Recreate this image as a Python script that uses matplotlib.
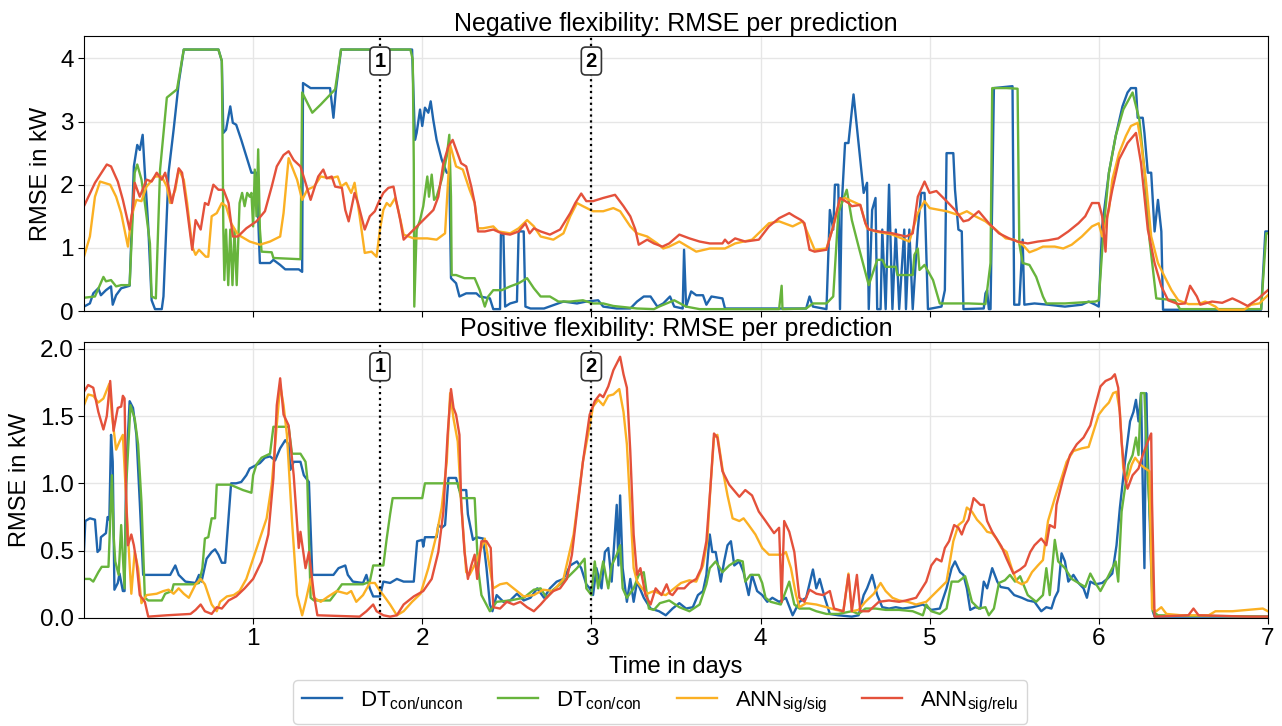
import numpy as np
import matplotlib
matplotlib.use("Agg")
import matplotlib.pyplot as plt
from matplotlib.transforms import blended_transform_factory

plt.rcParams['font.family'] = ['Liberation Sans', 'DejaVu Sans']
plt.rcParams['mathtext.default'] = 'regular'

# RMSE per prediction (day, kW) -- negative flexibility
neg_dt_uncon = [(0.0,0.07),(0.035,0.12),(0.055,0.28),(0.085,0.36),(0.1,0.25),(0.13,0.33),(0.16,0.39),(0.17,0.1),(0.19,0.25),(0.22,0.36),(0.27,0.4),(0.295,2.29),(0.315,2.63),(0.33,2.55),(0.347,2.79),(0.36,2.19),(0.38,1.34),(0.4,0.17),(0.42,0.03),(0.46,0.03),(0.47,0.23),(0.5,2.19),(0.53,2.87),(0.56,3.61),(0.59,4.14),(0.795,4.14),(0.815,3.96),(0.824,2.82),(0.84,2.87),(0.865,3.24),(0.88,2.98),(0.9,2.95),(0.93,2.71),(0.96,2.45),(0.99,2.19),(1.02,2.19),(1.04,0.76),(1.1,0.76),(1.12,0.81),(1.16,0.73),(1.19,0.66),(1.27,0.66),(1.29,0.62),(1.295,3.61),(1.34,3.53),(1.455,3.53),(1.475,3.06),(1.49,3.51),(1.52,4.14),(1.94,4.14),(1.957,2.71),(1.967,2.82),(1.987,3.19),(2.0,2.93),(2.016,3.22),(2.036,3.14),(2.05,3.32),(2.065,3.03),(2.085,2.71),(2.115,2.4),(2.145,2.19),(2.16,2.19),(2.17,0.52),(2.2,0.44),(2.22,0.23),(2.26,0.28),(2.32,0.28),(2.34,0.23),(2.4,0.2),(2.42,0.03),(2.46,0.03),(2.465,1.21),(2.48,1.21),(2.49,0.07),(2.52,0.12),(2.56,0.15),(2.57,1.26),(2.6,1.26),(2.61,0.07),(2.64,0.04),(2.72,0.04),(2.835,0.15),(2.915,0.12),(2.97,0.15),(3.04,0.17),(3.07,0.07),(3.15,0.04),(3.23,0.04),(3.27,0.15),(3.31,0.23),(3.35,0.23),(3.39,0.07),(3.425,0.12),(3.465,0.23),(3.49,0.07),(3.54,0.04),(3.548,0.97),(3.56,0.07),(3.59,0.31),(3.62,0.25),(3.66,0.25),(3.68,0.1),(3.71,0.23),(3.775,0.2),(3.79,0.04),(4.27,0.04),(4.29,0.23),(4.31,0.07),(4.39,0.03),(4.41,1.6),(4.43,1.29),(4.44,2.0),(4.46,2.0),(4.47,0.03),(4.48,1.66),(4.5,2.66),(4.52,2.66),(4.55,3.43),(4.59,2.4),(4.61,1.87),(4.63,2.03),(4.64,0.03),(4.66,1.6),(4.68,1.79),(4.69,0.03),(4.71,0.03),(4.72,1.29),(4.74,0.03),(4.76,2.0),(4.78,0.03),(4.8,1.29),(4.82,0.03),(4.85,1.29),(4.86,0.03),(4.88,1.29),(4.9,0.03),(4.93,1.29),(4.95,1.87),(4.97,1.87),(4.99,0.03),(5.07,0.07),(5.09,0.33),(5.1,2.5),(5.14,2.5),(5.15,1.92),(5.17,1.29),(5.19,1.26),(5.2,0.03),(5.32,0.04),(5.33,0.28),(5.34,0.33),(5.35,0.03),(5.36,0.03),(5.38,3.53),(5.49,3.56),(5.5,0.1),(5.53,0.1),(5.55,1.13),(5.56,0.1),(5.62,0.12),(5.7,0.1),(5.8,0.07),(5.9,0.1),(5.94,0.15),(5.98,0.1),(6.0,0.07),(6.02,1.34),(6.06,2.19),(6.1,2.77),(6.14,3.24),(6.17,3.46),(6.19,3.53),(6.22,3.53),(6.23,3.06),(6.26,3.06),(6.27,2.82),(6.29,2.19),(6.31,2.19),(6.33,1.26),(6.35,1.76),(6.37,1.26),(6.38,0.02),(6.96,0.02),(6.985,1.26),(7.0,1.26)]

neg_dt_con = [(0.0,0.21),(0.065,0.23),(0.115,0.54),(0.13,0.47),(0.16,0.49),(0.19,0.39),(0.22,0.41),(0.27,0.41),(0.28,1.02),(0.3,2.19),(0.315,2.32),(0.34,2.08),(0.36,1.71),(0.39,1.07),(0.4,0.23),(0.425,0.2),(0.45,2.24),(0.49,3.38),(0.55,3.51),(0.59,4.14),(0.795,4.14),(0.815,3.96),(0.824,1.29),(0.83,0.49),(0.84,1.29),(0.853,0.41),(0.865,1.29),(0.878,0.41),(0.89,1.29),(0.903,0.41),(0.92,1.71),(0.935,1.87),(0.95,1.66),(0.965,1.87),(0.98,1.81),(0.99,1.87),(1.0,1.34),(1.01,2.24),(1.02,1.5),(1.03,2.56),(1.04,1.3),(1.05,0.94),(1.11,0.93),(1.12,0.84),(1.28,0.82),(1.29,3.46),(1.35,3.14),(1.4,3.27),(1.485,3.51),(1.52,4.14),(1.93,4.14),(1.944,3.98),(1.95,2.34),(1.953,0.07),(1.967,1.29),(1.987,1.44),(2.006,1.66),(2.03,2.13),(2.04,1.81),(2.056,2.16),(2.07,1.76),(2.085,1.81),(2.115,2.08),(2.145,2.45),(2.16,2.79),(2.17,1.81),(2.174,0.57),(2.2,0.57),(2.25,0.52),(2.31,0.52),(2.34,0.33),(2.37,0.07),(2.39,0.23),(2.42,0.33),(2.47,0.33),(2.52,0.39),(2.57,0.44),(2.62,0.52),(2.66,0.36),(2.7,0.23),(2.755,0.23),(2.805,0.15),(2.875,0.15),(2.95,0.17),(3.01,0.12),(3.07,0.12),(3.13,0.08),(3.27,0.04),(3.37,0.03),(3.4,0.07),(3.49,0.17),(3.56,0.07),(3.64,0.03),(4.11,0.03),(4.125,0.4),(4.13,0.03),(4.27,0.04),(4.31,0.12),(4.39,0.12),(4.43,0.23),(4.46,1.55),(4.51,1.92),(4.54,1.44),(4.58,1.02),(4.64,0.41),(4.69,0.81),(4.72,0.81),(4.74,0.7),(4.8,0.7),(4.81,0.57),(4.9,0.57),(4.91,0.89),(4.93,0.99),(4.94,0.65),(4.97,0.73),(5.02,0.49),(5.06,0.12),(5.23,0.12),(5.33,0.11),(5.36,0.76),(5.37,3.53),(5.455,3.53),(5.52,3.52),(5.53,1.07),(5.55,0.76),(5.59,0.73),(5.63,0.54),(5.67,0.23),(5.69,0.12),(5.8,0.12),(5.98,0.15),(6.0,0.17),(6.03,1.34),(6.06,2.19),(6.1,2.77),(6.145,3.19),(6.2,3.46),(6.24,3.03),(6.27,2.24),(6.3,1.13),(6.34,0.2),(6.45,0.17),(6.48,0.03),(6.96,0.03),(6.99,1.23),(7.0,1.23)]

neg_ann_sig = [(0.0,0.86),(0.035,1.18),(0.065,1.81),(0.095,2.05),(0.155,2.0),(0.19,1.81),(0.22,1.55),(0.26,1.02),(0.28,1.5),(0.31,1.76),(0.34,1.74),(0.37,1.97),(0.42,2.13),(0.46,2.13),(0.49,1.97),(0.51,1.71),(0.54,1.92),(0.56,2.24),(0.59,2.08),(0.61,1.71),(0.64,1.02),(0.66,0.89),(0.68,0.97),(0.72,0.86),(0.735,0.86),(0.755,1.5),(0.785,1.55),(0.815,1.71),(0.84,1.66),(0.87,1.39),(0.91,1.21),(0.98,1.1),(1.04,1.05),(1.1,1.1),(1.16,1.18),(1.18,1.55),(1.21,2.42),(1.26,2.08),(1.29,1.76),(1.32,1.92),(1.36,1.97),(1.4,2.13),(1.455,2.1),(1.5,2.13),(1.52,1.97),(1.55,2.03),(1.58,1.87),(1.6,2.03),(1.63,1.5),(1.66,0.92),(1.7,0.94),(1.73,0.86),(1.75,1.29),(1.77,1.6),(1.79,1.71),(1.81,1.66),(1.84,1.79),(1.86,1.58),(1.89,1.21),(1.95,1.15),(2.03,1.15),(2.085,1.13),(2.135,1.23),(2.165,2.63),(2.2,2.29),(2.24,2.24),(2.28,1.92),(2.31,1.71),(2.33,1.31),(2.36,1.31),(2.42,1.34),(2.45,1.26),(2.52,1.23),(2.57,1.31),(2.62,1.44),(2.66,1.34),(2.7,1.18),(2.775,1.13),(2.835,1.23),(2.875,1.5),(2.915,1.71),(2.95,1.66),(3.01,1.58),(3.07,1.58),(3.13,1.63),(3.17,1.58),(3.23,1.34),(3.27,1.23),(3.33,1.18),(3.39,1.07),(3.425,0.99),(3.46,1.02),(3.52,1.1),(3.62,0.94),(3.7,0.99),(3.79,0.99),(3.85,1.07),(3.95,1.13),(4.05,1.39),(4.11,1.42),(4.19,1.34),(4.25,1.42),(4.32,0.97),(4.39,0.99),(4.43,1.34),(4.47,1.76),(4.5,1.79),(4.54,1.74),(4.59,1.68),(4.63,1.31),(4.68,1.26),(4.78,1.21),(4.88,1.1),(4.93,1.55),(4.97,1.74),(5.0,1.63),(5.1,1.58),(5.17,1.52),(5.22,1.58),(5.27,1.5),(5.33,1.42),(5.39,1.29),(5.45,1.15),(5.5,1.13),(5.55,1.05),(5.59,0.93),(5.63,0.97),(5.67,1.02),(5.74,1.02),(5.79,0.99),(5.84,1.05),(5.9,1.18),(5.96,1.34),(6.0,1.39),(6.02,1.18),(6.04,1.37),(6.06,1.6),(6.08,2.08),(6.12,2.5),(6.16,2.77),(6.19,2.93),(6.23,2.98),(6.25,2.66),(6.28,2.03),(6.31,1.18),(6.35,0.76),(6.39,0.54),(6.43,0.33),(6.47,0.17),(6.53,0.11),(6.59,0.11),(6.63,0.15),(6.69,0.07),(6.71,0.02),(6.86,0.02),(6.9,0.1),(6.95,0.12),(6.98,0.2),(7.0,0.25)]

neg_ann_relu = [(0.0,1.66),(0.065,2.03),(0.135,2.32),(0.16,2.29),(0.2,2.05),(0.23,1.76),(0.27,1.29),(0.29,1.66),(0.3,2.03),(0.33,1.81),(0.37,2.08),(0.4,2.05),(0.43,2.19),(0.46,2.08),(0.48,2.19),(0.5,1.97),(0.52,1.71),(0.54,1.97),(0.56,2.26),(0.58,2.19),(0.61,1.6),(0.64,0.97),(0.66,1.44),(0.69,1.29),(0.715,1.71),(0.735,1.68),(0.765,2.0),(0.795,1.92),(0.825,1.92),(0.855,1.71),(0.88,1.18),(0.91,1.18),(0.96,1.31),(1.02,1.42),(1.07,1.58),(1.11,1.97),(1.14,2.29),(1.18,2.47),(1.21,2.53),(1.24,2.39),(1.28,2.29),(1.31,2.03),(1.34,1.76),(1.365,1.97),(1.385,2.13),(1.415,2.24),(1.435,2.1),(1.465,2.13),(1.485,1.97),(1.525,1.95),(1.545,1.6),(1.565,1.42),(1.6,1.87),(1.62,1.71),(1.66,1.29),(1.69,1.5),(1.72,1.58),(1.74,1.71),(1.77,1.87),(1.8,1.95),(1.83,1.97),(1.845,1.76),(1.87,1.44),(1.89,1.13),(1.95,1.29),(2.006,1.44),(2.066,1.6),(2.095,1.81),(2.125,2.34),(2.155,2.61),(2.18,2.71),(2.2,2.56),(2.23,2.34),(2.26,2.29),(2.29,1.97),(2.31,1.71),(2.33,1.26),(2.37,1.26),(2.42,1.29),(2.47,1.23),(2.52,1.21),(2.57,1.26),(2.61,1.39),(2.635,1.23),(2.66,1.31),(2.7,1.26),(2.755,1.21),(2.815,1.29),(2.875,1.55),(2.905,1.71),(2.94,1.86),(2.97,1.74),(3.01,1.74),(3.07,1.79),(3.14,1.84),(3.19,1.66),(3.23,1.5),(3.26,1.29),(3.28,1.05),(3.33,1.13),(3.37,1.07),(3.42,1.02),(3.46,1.07),(3.52,1.21),(3.58,1.15),(3.64,1.1),(3.7,1.07),(3.775,1.07),(3.79,1.13),(3.81,1.07),(3.85,1.15),(3.91,1.1),(3.99,1.13),(4.05,1.34),(4.11,1.47),(4.17,1.55),(4.2,1.5),(4.24,1.44),(4.26,1.39),(4.29,0.97),(4.32,0.94),(4.39,0.97),(4.43,1.34),(4.47,1.79),(4.52,1.71),(4.54,1.66),(4.59,1.68),(4.62,1.39),(4.64,1.29),(4.7,1.26),(4.78,1.23),(4.86,1.18),(4.9,1.23),(4.93,1.81),(4.97,2.05),(5.0,1.87),(5.04,1.9),(5.1,1.74),(5.15,1.6),(5.2,1.42),(5.23,1.44),(5.29,1.58),(5.35,1.39),(5.41,1.23),(5.47,1.15),(5.52,1.1),(5.58,1.07),(5.64,1.1),(5.7,1.12),(5.76,1.15),(5.82,1.26),(5.88,1.39),(5.92,1.5),(5.96,1.71),(6.0,1.71),(6.02,1.5),(6.04,0.94),(6.05,1.5),(6.08,1.92),(6.12,2.4),(6.17,2.66),(6.22,2.82),(6.25,2.34),(6.29,1.29),(6.33,0.76),(6.37,0.39),(6.41,0.17),(6.47,0.11),(6.51,0.12),(6.54,0.4),(6.58,0.23),(6.6,0.1),(6.67,0.15),(6.73,0.13),(6.79,0.2),(6.83,0.15),(6.88,0.08),(6.94,0.19),(7.0,0.33)]

# RMSE per prediction (day, kW) -- positive flexibility
pos_dt_uncon = [(0.0,0.5),(0.008,0.72),(0.035,0.74),(0.065,0.73),(0.08,0.49),(0.095,0.51),(0.1,0.6),(0.13,0.63),(0.14,0.75),(0.15,0.73),(0.16,1.36),(0.17,1.16),(0.18,0.21),(0.2,0.26),(0.21,0.33),(0.23,0.2),(0.24,0.2),(0.25,1.11),(0.27,1.61),(0.29,1.56),(0.31,1.36),(0.33,0.86),(0.35,0.32),(0.51,0.32),(0.54,0.39),(0.56,0.32),(0.6,0.27),(0.66,0.26),(0.68,0.32),(0.695,0.27),(0.725,0.44),(0.755,0.49),(0.775,0.51),(0.795,0.47),(0.815,0.41),(0.835,0.41),(0.845,0.58),(0.855,0.75),(0.87,1.0),(0.9,1.0),(0.93,1.01),(0.96,1.06),(0.98,1.11),(1.01,1.13),(1.04,1.15),(1.07,1.19),(1.1,1.2),(1.13,1.17),(1.16,1.26),(1.19,1.32),(1.21,1.29),(1.22,1.1),(1.24,1.16),(1.28,1.16),(1.3,1.06),(1.33,1.01),(1.35,0.32),(1.475,0.32),(1.505,0.37),(1.545,0.39),(1.56,0.32),(1.59,0.27),(1.65,0.26),(1.67,0.32),(1.69,0.22),(1.71,0.16),(1.75,0.16),(1.77,0.27),(1.81,0.26),(1.85,0.29),(1.89,0.27),(1.95,0.27),(1.97,0.57),(2.0,0.58),(2.006,0.53),(2.016,0.6),(2.085,0.6),(2.095,0.69),(2.115,0.67),(2.135,0.69),(2.155,1.04),(2.2,1.04),(2.22,0.95),(2.26,0.95),(2.27,0.77),(2.3,0.58),(2.32,0.6),(2.36,0.59),(2.38,0.37),(2.4,0.1),(2.415,0.05),(2.44,0.17),(2.48,0.12),(2.52,0.13),(2.56,0.18),(2.6,0.13),(2.64,0.15),(2.68,0.22),(2.72,0.15),(2.755,0.22),(2.795,0.27),(2.835,0.29),(2.875,0.39),(2.915,0.42),(2.94,0.37),(2.97,0.25),(2.99,0.22),(3.01,0.17),(3.03,0.37),(3.06,0.22),(3.08,0.49),(3.1,0.52),(3.12,0.27),(3.15,0.84),(3.16,0.39),(3.17,0.91),(3.185,0.37),(3.21,0.12),(3.23,0.29),(3.25,0.12),(3.27,0.27),(3.31,0.15),(3.35,0.07),(3.4,0.05),(3.44,0.02),(3.48,0.07),(3.52,0.11),(3.56,0.07),(3.6,0.08),(3.63,0.17),(3.66,0.2),(3.68,0.32),(3.7,0.62),(3.715,0.49),(3.735,0.49),(3.765,0.27),(3.785,0.42),(3.805,0.54),(3.825,0.57),(3.845,0.39),(3.875,0.42),(3.9,0.34),(3.93,0.17),(3.95,0.32),(3.98,0.2),(4.01,0.17),(4.04,0.12),(4.07,0.15),(4.11,0.12),(4.15,0.15),(4.19,0.02),(4.23,0.12),(4.27,0.15),(4.31,0.36),(4.33,0.22),(4.35,0.29),(4.38,0.15),(4.41,0.03),(4.46,0.02),(4.54,0.01),(4.58,0.02),(4.61,0.17),(4.63,0.22),(4.66,0.32),(4.69,0.17),(4.72,0.08),(4.76,0.07),(4.8,0.08),(4.84,0.07),(4.9,0.08),(4.96,0.1),(5.01,0.06),(5.06,0.07),(5.1,0.22),(5.13,0.37),(5.15,0.42),(5.18,0.34),(5.2,0.32),(5.22,0.22),(5.24,0.06),(5.27,0.08),(5.3,0.07),(5.32,0.27),(5.34,0.22),(5.37,0.37),(5.4,0.27),(5.42,0.23),(5.465,0.22),(5.5,0.17),(5.545,0.15),(5.58,0.13),(5.62,0.12),(5.66,0.05),(5.69,0.08),(5.72,0.07),(5.74,0.15),(5.76,0.2),(5.78,0.48),(5.8,0.42),(5.82,0.27),(5.85,0.32),(5.88,0.26),(5.91,0.22),(5.93,0.15),(5.95,0.27),(5.98,0.25),(6.02,0.26),(6.05,0.29),(6.08,0.33),(6.105,0.54),(6.125,0.82),(6.155,1.16),(6.185,1.46),(6.205,1.53),(6.22,1.62),(6.235,1.46),(6.25,1.67),(6.26,0.99),(6.27,0.37),(6.28,1.67),(6.29,1.21),(6.31,0.37),(6.32,0.05),(6.33,0.01),(7.0,0.01)]

pos_dt_con = [(0.0,0.29),(0.035,0.29),(0.055,0.27),(0.085,0.34),(0.105,0.38),(0.145,0.38),(0.165,1.06),(0.175,0.62),(0.185,0.42),(0.205,0.32),(0.22,0.69),(0.24,0.22),(0.25,0.99),(0.275,1.58),(0.3,1.48),(0.32,1.29),(0.34,0.86),(0.36,0.15),(0.38,0.13),(0.46,0.13),(0.48,0.18),(0.52,0.2),(0.53,0.25),(0.65,0.25),(0.68,0.26),(0.7,0.37),(0.715,0.59),(0.735,0.6),(0.755,0.74),(0.775,0.74),(0.785,0.99),(0.865,0.99),(0.94,0.95),(0.99,0.93),(1.0,1.06),(1.02,1.14),(1.05,1.19),(1.1,1.22),(1.12,1.42),(1.21,1.42),(1.23,1.22),(1.28,1.22),(1.31,1.16),(1.32,1.04),(1.34,0.15),(1.36,0.13),(1.455,0.13),(1.485,0.18),(1.525,0.25),(1.65,0.25),(1.69,0.27),(1.71,0.39),(1.77,0.39),(1.79,0.59),(1.81,0.77),(1.825,0.89),(2.0,0.89),(2.016,1.0),(2.21,1.0),(2.23,0.89),(2.31,0.89),(2.33,0.37),(2.35,0.17),(2.4,0.05),(2.44,0.12),(2.52,0.13),(2.6,0.15),(2.66,0.21),(2.7,0.22),(2.735,0.15),(2.775,0.21),(2.835,0.27),(2.875,0.32),(2.915,0.37),(2.96,0.44),(2.97,0.22),(3.0,0.17),(3.02,0.42),(3.04,0.22),(3.07,0.42),(3.1,0.22),(3.12,0.39),(3.15,0.47),(3.17,0.54),(3.185,0.22),(3.21,0.15),(3.25,0.22),(3.28,0.32),(3.31,0.34),(3.34,0.07),(3.37,0.06),(3.405,0.11),(3.46,0.13),(3.52,0.08),(3.58,0.05),(3.64,0.1),(3.68,0.25),(3.7,0.37),(3.735,0.42),(3.775,0.34),(3.815,0.39),(3.865,0.43),(3.895,0.42),(3.91,0.27),(3.94,0.32),(3.99,0.32),(4.01,0.26),(4.03,0.15),(4.06,0.12),(4.12,0.1),(4.17,0.27),(4.2,0.1),(4.23,0.07),(4.29,0.07),(4.33,0.05),(4.39,0.03),(4.46,0.03),(4.54,0.05),(4.58,0.03),(4.62,0.07),(4.68,0.07),(4.74,0.06),(4.82,0.06),(4.9,0.05),(4.96,0.02),(4.98,0.1),(5.01,0.05),(5.06,0.03),(5.1,0.07),(5.13,0.27),(5.17,0.27),(5.21,0.31),(5.23,0.22),(5.25,0.12),(5.29,0.07),(5.33,0.08),(5.35,0.02),(5.38,0.07),(5.41,0.26),(5.445,0.28),(5.475,0.32),(5.505,0.27),(5.535,0.31),(5.58,0.17),(5.63,0.12),(5.67,0.17),(5.69,0.37),(5.71,0.17),(5.74,0.58),(5.76,0.42),(5.8,0.37),(5.84,0.29),(5.88,0.26),(5.92,0.23),(5.95,0.33),(5.98,0.26),(6.01,0.2),(6.04,0.27),(6.08,0.37),(6.1,0.42),(6.115,0.27),(6.135,0.79),(6.175,1.14),(6.2,1.21),(6.22,1.34),(6.235,1.21),(6.25,1.67),(6.27,1.67),(6.29,1.04),(6.31,0.57),(6.32,0.05),(6.35,0.02),(7.0,0.01)]

pos_ann_sig = [(0.0,1.58),(0.025,1.66),(0.055,1.65),(0.085,1.6),(0.115,1.63),(0.15,1.74),(0.165,1.51),(0.19,1.25),(0.21,1.31),(0.23,1.36),(0.24,1.11),(0.26,0.62),(0.28,0.18),(0.3,0.49),(0.32,0.37),(0.34,0.11),(0.37,0.17),(0.43,0.18),(0.47,0.2),(0.5,0.21),(0.53,0.18),(0.56,0.22),(0.59,0.18),(0.62,0.15),(0.66,0.25),(0.69,0.29),(0.715,0.25),(0.755,0.1),(0.785,0.05),(0.805,0.12),(0.845,0.16),(0.885,0.17),(0.92,0.2),(0.96,0.29),(1.0,0.44),(1.04,0.59),(1.08,0.74),(1.11,0.99),(1.14,1.43),(1.16,1.73),(1.18,1.58),(1.2,1.36),(1.23,0.72),(1.26,0.17),(1.29,0.02),(1.31,0.12),(1.34,0.29),(1.36,0.15),(1.4,0.12),(1.445,0.16),(1.495,0.2),(1.555,0.18),(1.58,0.2),(1.61,0.12),(1.65,0.17),(1.69,0.26),(1.72,0.26),(1.75,0.2),(1.77,0.17),(1.81,0.1),(1.85,0.02),(1.89,0.05),(1.94,0.12),(1.99,0.18),(2.036,0.37),(2.085,0.62),(2.115,0.82),(2.145,1.16),(2.165,1.67),(2.185,1.48),(2.21,1.31),(2.23,0.86),(2.26,0.34),(2.28,0.32),(2.32,0.42),(2.35,0.52),(2.37,0.59),(2.39,0.44),(2.42,0.22),(2.46,0.25),(2.5,0.26),(2.54,0.22),(2.6,0.16),(2.66,0.17),(2.715,0.21),(2.775,0.2),(2.835,0.29),(2.895,0.62),(2.925,0.91),(2.95,1.16),(2.98,1.36),(3.01,1.57),(3.04,1.62),(3.07,1.58),(3.1,1.65),(3.13,1.66),(3.165,1.7),(3.19,1.53),(3.21,1.29),(3.23,0.82),(3.25,0.37),(3.27,0.27),(3.3,0.22),(3.33,0.18),(3.37,0.2),(3.405,0.18),(3.44,0.17),(3.48,0.21),(3.53,0.26),(3.58,0.28),(3.62,0.27),(3.66,0.39),(3.685,0.57),(3.705,0.99),(3.725,1.34),(3.745,1.36),(3.775,1.11),(3.805,0.91),(3.835,0.74),(3.875,0.72),(3.9,0.74),(3.93,0.69),(3.97,0.62),(4.01,0.52),(4.05,0.47),(4.13,0.47),(4.15,0.49),(4.18,0.37),(4.21,0.17),(4.23,0.08),(4.27,0.11),(4.33,0.1),(4.39,0.08),(4.445,0.06),(4.49,0.05),(4.52,0.33),(4.54,0.05),(4.58,0.06),(4.62,0.12),(4.67,0.18),(4.71,0.26),(4.74,0.2),(4.78,0.15),(4.82,0.13),(4.87,0.12),(4.92,0.1),(4.98,0.12),(5.02,0.17),(5.06,0.22),(5.1,0.27),(5.12,0.42),(5.14,0.57),(5.17,0.69),(5.2,0.72),(5.22,0.82),(5.25,0.79),(5.28,0.73),(5.31,0.69),(5.34,0.64),(5.37,0.63),(5.395,0.59),(5.425,0.52),(5.455,0.49),(5.485,0.37),(5.515,0.27),(5.545,0.25),(5.575,0.27),(5.605,0.34),(5.64,0.39),(5.67,0.43),(5.7,0.72),(5.74,0.89),(5.78,1.04),(5.81,1.16),(5.85,1.24),(5.9,1.26),(5.94,1.27),(5.97,1.39),(6.0,1.51),(6.03,1.56),(6.06,1.6),(6.085,1.67),(6.105,1.68),(6.125,1.53),(6.145,1.11),(6.165,1.01),(6.195,1.14),(6.215,1.19),(6.245,1.14),(6.275,1.11),(6.3,1.09),(6.315,0.07),(6.34,0.05),(6.37,0.08),(6.4,0.03),(6.49,0.02),(6.65,0.02),(6.69,0.05),(6.79,0.05),(6.88,0.06),(6.97,0.07),(7.0,0.05)]

pos_ann_relu = [(0.0,1.68),(0.025,1.73),(0.055,1.71),(0.085,1.53),(0.115,1.4),(0.135,1.5),(0.155,1.76),(0.175,1.39),(0.2,1.56),(0.22,1.57),(0.23,1.65),(0.24,1.63),(0.25,0.86),(0.26,0.54),(0.28,0.62),(0.295,0.54),(0.31,0.42),(0.33,0.17),(0.36,0.12),(0.38,0.01),(0.49,0.02),(0.63,0.03),(0.66,0.06),(0.69,0.1),(0.715,0.05),(0.755,0.03),(0.785,0.08),(0.815,0.07),(0.855,0.13),(0.9,0.16),(0.95,0.22),(1.0,0.29),(1.05,0.42),(1.09,0.62),(1.12,1.04),(1.14,1.58),(1.16,1.78),(1.18,1.51),(1.21,1.43),(1.24,1.06),(1.27,0.52),(1.28,0.64),(1.31,0.37),(1.33,0.49),(1.36,0.17),(1.38,0.02),(1.63,0.01),(1.67,0.05),(1.71,0.1),(1.73,0.05),(1.77,0.02),(1.81,0.01),(1.85,0.02),(1.89,0.1),(1.95,0.16),(2.006,0.2),(2.056,0.29),(2.095,0.49),(2.125,0.79),(2.15,1.36),(2.17,1.7),(2.185,1.56),(2.2,1.51),(2.22,1.36),(2.23,0.86),(2.25,0.49),(2.27,0.29),(2.29,0.39),(2.31,0.47),(2.325,0.29),(2.35,0.57),(2.38,0.57),(2.405,0.52),(2.42,0.08),(2.46,0.07),(2.5,0.12),(2.54,0.1),(2.58,0.12),(2.62,0.08),(2.66,0.05),(2.7,0.1),(2.735,0.15),(2.775,0.2),(2.815,0.22),(2.855,0.29),(2.885,0.47),(2.915,0.79),(2.95,1.16),(2.99,1.51),(3.02,1.61),(3.05,1.66),(3.07,1.64),(3.1,1.72),(3.13,1.84),(3.17,1.94),(3.19,1.81),(3.21,1.71),(3.23,1.24),(3.25,0.62),(3.27,0.32),(3.29,0.37),(3.32,0.17),(3.35,0.1),(3.38,0.22),(3.415,0.17),(3.445,0.25),(3.465,0.18),(3.48,0.17),(3.51,0.22),(3.55,0.22),(3.58,0.26),(3.62,0.29),(3.65,0.37),(3.68,0.57),(3.705,0.99),(3.725,1.37),(3.745,1.34),(3.775,1.09),(3.815,0.99),(3.875,0.9),(3.91,0.95),(3.95,0.91),(3.99,0.79),(4.03,0.72),(4.08,0.63),(4.11,0.67),(4.125,0.12),(4.14,0.72),(4.17,0.64),(4.2,0.49),(4.23,0.15),(4.26,0.12),(4.29,0.21),(4.33,0.18),(4.37,0.17),(4.41,0.2),(4.435,0.07),(4.49,0.05),(4.52,0.32),(4.54,0.05),(4.57,0.32),(4.59,0.05),(4.64,0.05),(4.7,0.12),(4.76,0.13),(4.82,0.12),(4.86,0.13),(4.92,0.15),(4.98,0.27),(5.01,0.39),(5.04,0.44),(5.07,0.42),(5.09,0.52),(5.115,0.57),(5.145,0.69),(5.17,0.67),(5.19,0.62),(5.21,0.69),(5.23,0.73),(5.26,0.89),(5.3,0.84),(5.32,0.84),(5.34,0.72),(5.37,0.64),(5.395,0.59),(5.425,0.53),(5.455,0.44),(5.495,0.33),(5.535,0.36),(5.565,0.39),(5.595,0.49),(5.62,0.54),(5.66,0.59),(5.69,0.54),(5.71,0.69),(5.74,0.67),(5.75,0.84),(5.79,1.04),(5.83,1.21),(5.87,1.29),(5.91,1.34),(5.95,1.43),(5.98,1.58),(6.01,1.72),(6.04,1.76),(6.075,1.78),(6.095,1.81),(6.115,1.71),(6.135,1.31),(6.155,1.04),(6.17,0.96),(6.2,1.06),(6.235,1.11),(6.26,1.21),(6.29,1.31),(6.31,1.37),(6.315,0.86),(6.33,0.01),(6.53,0.02),(6.56,0.07),(6.59,0.02),(6.88,0.01),(7.0,0.01)]

labels = [r'DT$_{con/uncon}$', r'DT$_{con/con}$', r'ANN$_{sig/sig}$', r'ANN$_{sig/relu}$']
colors = ['#1f65ad', '#67b43c', '#fbb023', '#e4513b']
markers = [(1.75, '1'), (3.0, '2')]

fig = plt.figure(figsize=(12.82, 7.26), dpi=100)
ax1 = fig.add_axes([0.0655, 0.5716, 0.9235, 0.3784])
ax2 = fig.add_axes([0.0655, 0.1488, 0.9235, 0.3802], sharex=ax1)

panels = [
    (ax1, [neg_dt_uncon, neg_dt_con, neg_ann_sig, neg_ann_relu],
     'Negative flexibility: RMSE per prediction', 4.35, [0, 1, 2, 3, 4]),
    (ax2, [pos_dt_uncon, pos_dt_con, pos_ann_sig, pos_ann_relu],
     'Positive flexibility: RMSE per prediction', 2.05, [0.0, 0.5, 1.0, 1.5, 2.0]),
]

for ax, series, title, ymax, yticks in panels:
    for data, lab, col in zip(series, labels, colors):
        t, v = np.array(data).T
        ax.plot(t, v, color=col, lw=1.7, label=lab)
    ax.set_ylim(0, ymax)
    ax.set_yticks(yticks)
    ax.set_xlim(0, 7)
    ax.set_xticks([1, 2, 3, 4, 5, 6, 7])
    ax.grid(True, color='#e6e6e6', lw=1.0)
    ax.set_axisbelow(True)
    ax.set_title(title, fontsize=18, pad=4)
    ax.set_ylabel('RMSE in kW', fontsize=17, labelpad=6)
    ax.tick_params(labelsize=17.5, length=4)
    trans = blended_transform_factory(ax.transData, ax.transAxes)
    for xm, txt in markers:
        ax.axvline(xm, color='black', ls=':', lw=1.6, zorder=5)
        ax.text(xm, 0.91, txt, transform=trans, ha='center', va='center',
                fontsize=14.5, fontweight='bold', zorder=6,
                bbox=dict(boxstyle='round,pad=0.22', fc='white', ec='#333333', lw=1.2))

ax2.yaxis.set_major_formatter(matplotlib.ticker.FormatStrFormatter('%.1f'))
plt.setp(ax1.get_xticklabels(), visible=False)
ax2.set_xlabel('Time in days', fontsize=17)

handles, labs = ax2.get_legend_handles_labels()
fig.legend(handles, labs, loc='lower center', bbox_to_anchor=(0.515, -0.012), ncol=4,
           fontsize=16, frameon=True, handlelength=1.8, columnspacing=1.6)

fig.savefig('out.png', dpi=100)
